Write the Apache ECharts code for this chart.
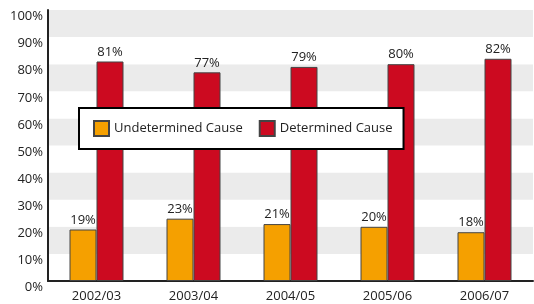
<!DOCTYPE html>
<html>
<head>
<meta charset="utf-8">
<script src="https://cdn.jsdelivr.net/npm/echarts@6/dist/echarts.min.js"></script>
<style>
  html, body { margin: 0; padding: 0; background: #fff; }
  #chart-container { width: 534px; height: 304px; }
</style>
</head>
<body>
<div id="chart-container"></div>
<script>
var years = ['2002/03', '2003/04', '2004/05', '2005/06', '2006/07'];
var undetermined = [19, 23, 21, 20, 18];
var determined = [81, 77, 79, 80, 82];

var dom = document.getElementById('chart-container');
var myChart = echarts.init(dom, null, { renderer: 'canvas' });

var font = 'Open Sans';
var option = {
    animation: false,
    textStyle: { fontFamily: font },
    grid: { left: 48, right: 1, top: 10, bottom: 23 },
    legend: {
        left: 79,
        top: 108,
        orient: 'horizontal',
        backgroundColor: '#fff',
        borderColor: '#000',
        borderWidth: 2,
        borderRadius: 0,
        padding: [12, 11, 12, 14],
        itemWidth: 15,
        itemHeight: 15,
        itemGap: 16,
        icon: 'rect',
        textStyle: { fontFamily: font, fontSize: 13, color: '#222' },
        data: ['Undetermined Cause', 'Determined Cause']
    },
    xAxis: {
        type: 'category',
        data: years,
        axisLine: { lineStyle: { color: '#222', width: 2 } },
        axisTick: { show: false },
        axisLabel: { color: '#222', fontSize: 13, margin: 9 }
    },
    yAxis: {
        type: 'value',
        min: 0,
        max: 100,
        interval: 10,
        axisLine: { show: true, lineStyle: { color: '#222', width: 2 } },
        axisTick: { show: false },
        splitLine: { show: false },
        splitArea: { show: true, areaStyle: { color: ['#ffffff', '#ebebeb'] } },
        axisLabel: {
            color: '#222',
            fontSize: 13,
            margin: 5,
            verticalAlign: 'top',
            formatter: '{value}%'
        }
    },
    series: [
        {
            name: 'Undetermined Cause',
            type: 'bar',
            barWidth: 27,
            barGap: '0%',
            itemStyle: { color: '#f5a000', borderColor: '#444', borderWidth: 1 },
            label: { show: true, position: 'top', formatter: '{c}%', color: '#222', fontSize: 13, distance: 3 },
            data: undetermined
        },
        {
            name: 'Determined Cause',
            type: 'bar',
            barWidth: 27,
            itemStyle: { color: '#cc0a20', borderColor: '#444', borderWidth: 1 },
            label: { show: true, position: 'top', formatter: '{c}%', color: '#222', fontSize: 13, distance: 3 },
            data: determined
        }
    ]
};
myChart.setOption(option);
window.addEventListener('resize', myChart.resize);
</script>
</body>
</html>
